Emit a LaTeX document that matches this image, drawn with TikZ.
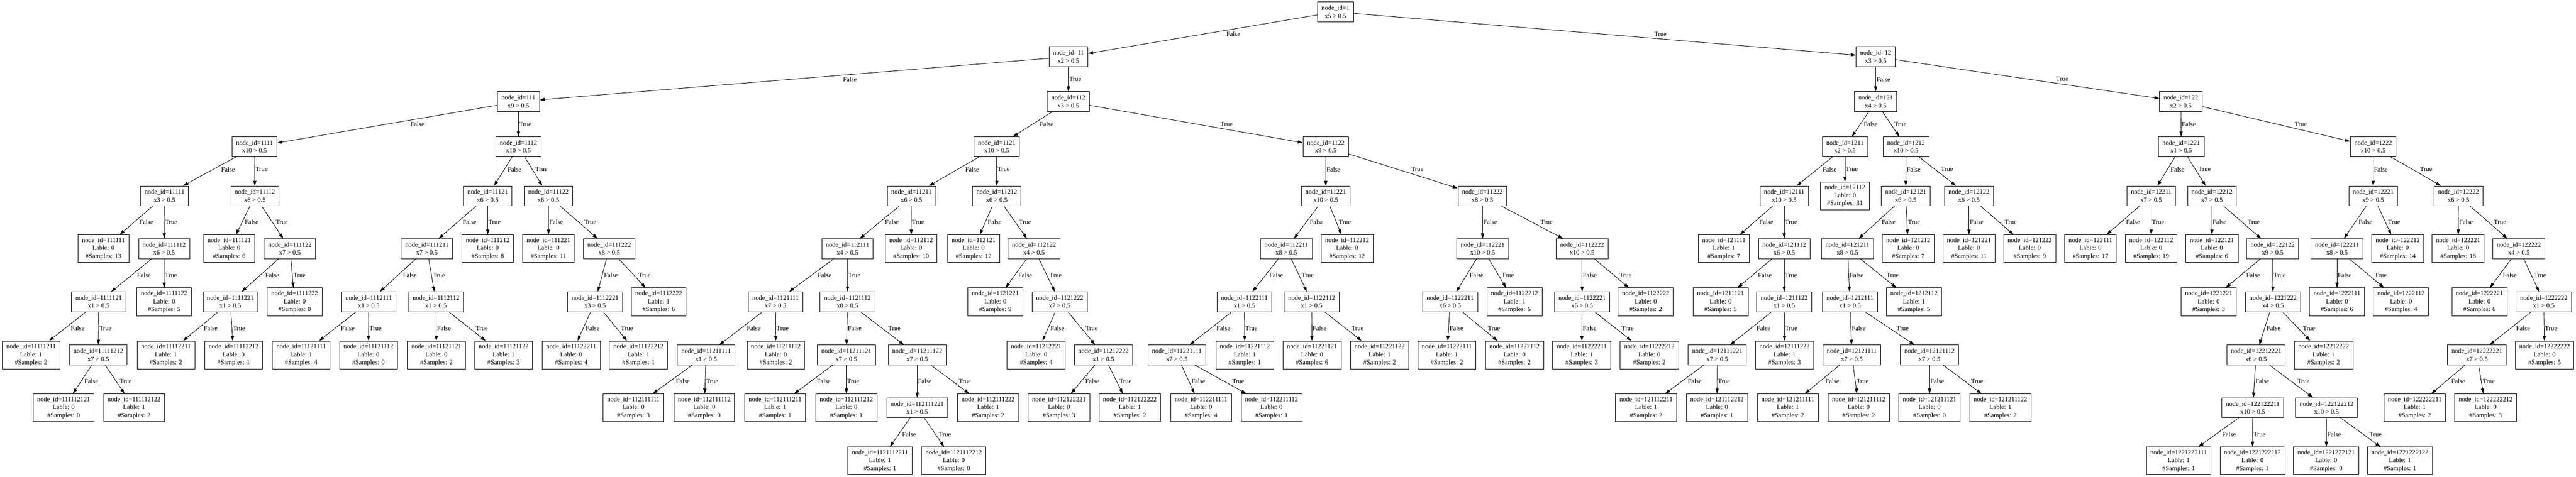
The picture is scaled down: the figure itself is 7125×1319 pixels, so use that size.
\documentclass[tikz,border=0pt]{standalone}
\usepackage{fontspec}
\setmainfont{Liberation Serif}
\usetikzlibrary{arrows.meta,calc}
\newcommand\fs{\fontsize{18}{22}\selectfont}
\newcommand\mkint[4]{\node[intbox] (n#1) at (#2,#3) {node\_id=#1\\x#4 > 0.5};}
\newcommand\mkleaf[5]{\node[leafbox] (n#1) at (#2,#3) {node\_id=#1\\Lable: #4\\\#Samples: #5};}
\newcommand\mkedge[4][0.5]{\draw[edge] (#2) -- (#3);
  \path let \p1=(#2.center), \p2=(#3.center), \n1={abs(\x2-\x1)/abs(\y2-\y1)*11+2} in (\p1) -- (\p2) node[lbl, pos=#1, xshift=\n1] {#4};}
\newcommand\kids[2][0.5]{\mkedge[#1]{n#2}{n#21}{False}\mkedge[#1]{n#2}{n#22}{True}}
\begin{document}
\begin{tikzpicture}[x=1pt,y=-1pt,
  box/.style={draw, line width=1.3pt, align=center, inner xsep=11pt, inner ysep=0pt, font=\fs},
  intbox/.style={box, minimum height=55pt},
  leafbox/.style={box, minimum height=77pt},
  edge/.style={line width=1.3pt, -{Triangle[length=14pt,width=9pt]}},
  lbl/.style={anchor=west, inner sep=0pt, font=\fs}]
\useasboundingbox[fill=white] (0,0) rectangle (7125,1319);
% level 0-3
\mkint{1}{3694}{33}{5}
\mkint{11}{2955}{157}{2}
\mkint{12}{5188}{157}{3}
\mkint{111}{1434}{281}{9}
\mkint{112}{2955}{281}{3}
\mkint{121}{5188}{281}{4}
\mkint{122}{6032}{281}{2}
\mkint{1111}{704}{406}{10}
\mkint{1112}{1434}{406}{10}
\mkint{1121}{2757}{406}{10}
\mkint{1122}{3667}{406}{9}
\mkint{1211}{5103}{406}{2}
\mkint{1212}{5272}{406}{10}
\mkint{1221}{6033}{406}{1}
\mkint{1222}{6564}{406}{10}
% level 4
\mkint{11111}{455}{542}{3}
\mkint{11112}{705}{542}{6}
\mkint{11121}{1349}{542}{6}
\mkint{11122}{1517}{542}{6}
\mkint{11211}{2521}{542}{6}
\mkint{11212}{2757}{542}{6}
\mkint{11221}{3667}{542}{10}
\mkint{11222}{4100}{542}{8}
\mkint{12111}{4935}{542}{10}
\mkleaf{12112}{5103}{542}{0}{31}
\mkint{12121}{5271}{542}{6}
\mkint{12122}{5446}{542}{6}
\mkint{12211}{5950}{542}{7}
\mkint{12212}{6118}{542}{7}
\mkint{12221}{6564}{542}{9}
\mkint{12222}{6800}{542}{6}
% level 5
\mkleaf{111111}{286}{688}{0}{13}
\mkint{111112}{454}{688}{6}
\mkleaf{111121}{634}{688}{0}{6}
\mkint{111122}{802}{688}{7}
\mkint{111211}{1181}{688}{7}
\mkleaf{111212}{1349}{688}{0}{8}
\mkleaf{111221}{1517}{688}{0}{11}
\mkint{111222}{1685}{688}{8}
\mkint{112111}{2344}{688}{4}
\mkleaf{112112}{2520}{688}{0}{10}
\mkleaf{112121}{2693}{688}{0}{12}
\mkint{112122}{2860}{688}{4}
\mkint{112211}{3558}{688}{8}
\mkleaf{112212}{3726}{688}{0}{12}
\mkint{112221}{4101}{688}{10}
\mkint{112222}{4376}{688}{10}
\mkleaf{121111}{4768}{688}{1}{7}
\mkint{121112}{4935}{688}{6}
\mkint{121211}{5110}{688}{8}
\mkleaf{121212}{5278}{688}{0}{7}
\mkleaf{121221}{5446}{688}{0}{11}
\mkleaf{121222}{5614}{688}{0}{9}
\mkleaf{122111}{5782}{688}{0}{17}
\mkleaf{122112}{5950}{688}{0}{19}
\mkleaf{122121}{6118}{688}{0}{6}
\mkint{122122}{6286}{688}{9}
\mkint{122211}{6464}{688}{8}
\mkleaf{122212}{6632}{688}{0}{14}
\mkleaf{122221}{6799}{688}{0}{18}
\mkint{122222}{6967}{688}{4}
% level 6
\mkint{1111121}{273}{835}{1}
\mkleaf{1111122}{454}{835}{0}{5}
\mkint{1111221}{637}{835}{1}
\mkleaf{1111222}{815}{835}{0}{0}
\mkint{1112111}{1020}{835}{1}
\mkint{1112112}{1206}{835}{1}
\mkint{1112221}{1646}{835}{3}
\mkleaf{1112222}{1822}{835}{1}{6}
\mkint{1121111}{2145}{835}{7}
\mkint{1121112}{2344}{835}{8}
\mkleaf{1121221}{2753}{835}{0}{9}
\mkint{1121222}{2931}{835}{7}
\mkint{1122111}{3442}{835}{1}
\mkint{1122112}{3628}{835}{1}
\mkint{1122211}{4011}{835}{6}
\mkleaf{1122212}{4189}{835}{1}{6}
\mkint{1122221}{4376}{835}{6}
\mkleaf{1122222}{4552}{835}{0}{2}
\mkleaf{1211121}{4759}{835}{0}{5}
\mkint{1211122}{4935}{835}{1}
\mkint{1212111}{5117}{835}{1}
\mkleaf{1212112}{5294}{835}{1}{5}
\mkleaf{1221221}{6109}{835}{0}{3}
\mkint{1221222}{6287}{835}{4}
\mkleaf{1222111}{6464}{835}{0}{6}
\mkleaf{1222112}{6641}{835}{0}{4}
\mkleaf{1222221}{6858}{835}{0}{6}
\mkint{1222222}{7036}{835}{1}
% level 7
\mkleaf{11111211}{86}{982}{1}{2}
\mkint{11111212}{272}{982}{7}
\mkleaf{11112211}{459}{982}{1}{2}
\mkleaf{11112212}{646}{982}{0}{1}
\mkleaf{11121111}{833}{982}{1}{4}
\mkleaf{11121112}{1019}{982}{0}{0}
\mkleaf{11121121}{1207}{982}{0}{2}
\mkleaf{11121122}{1393}{982}{1}{3}
\mkleaf{11122211}{1580}{982}{0}{4}
\mkleaf{11122212}{1766}{982}{1}{1}
\mkint{11211111}{1953}{982}{1}
\mkleaf{11211112}{2146}{982}{0}{2}
\mkint{11211121}{2341}{982}{7}
\mkint{11211122}{2537}{982}{7}
\mkleaf{11212221}{2866}{982}{0}{4}
\mkint{11212222}{3052}{982}{1}
\mkint{11221111}{3255}{982}{7}
\mkleaf{11221112}{3443}{982}{1}{1}
\mkleaf{11221121}{3629}{982}{0}{6}
\mkleaf{11221122}{3816}{982}{1}{2}
\mkleaf{11222111}{4002}{982}{1}{2}
\mkleaf{11222112}{4189}{982}{0}{2}
\mkleaf{11222211}{4375}{982}{1}{3}
\mkleaf{11222212}{4562}{982}{0}{2}
\mkint{12111221}{4750}{982}{7}
\mkleaf{12111222}{4936}{982}{1}{3}
\mkint{12121111}{5122}{982}{7}
\mkint{12121112}{5337}{982}{7}
\mkint{12212221}{6240}{982}{6}
\mkleaf{12212222}{6427}{982}{1}{2}
\mkint{12222221}{6851}{982}{7}
\mkleaf{12222222}{7038}{982}{0}{5}
% level 8
\mkleaf{111112121}{176}{1128}{0}{0}
\mkleaf{111112122}{371}{1128}{1}{2}
\mkleaf{112111111}{1752}{1128}{0}{3}
\mkleaf{112111112}{1948}{1128}{0}{0}
\mkleaf{112111211}{2144}{1128}{1}{1}
\mkleaf{112111212}{2341}{1128}{0}{1}
\mkint{112111221}{2537}{1128}{1}
\mkleaf{112111222}{2733}{1128}{1}{2}
\mkleaf{112122221}{2929}{1128}{0}{3}
\mkleaf{112122222}{3125}{1128}{1}{2}
\mkleaf{112211111}{3322}{1128}{0}{4}
\mkleaf{112211112}{3517}{1128}{0}{1}
\mkleaf{121112211}{4553}{1128}{1}{2}
\mkleaf{121112212}{4749}{1128}{0}{1}
\mkleaf{121211111}{4945}{1128}{1}{2}
\mkleaf{121211112}{5141}{1128}{0}{2}
\mkleaf{121211121}{5337}{1128}{0}{0}
\mkleaf{121211122}{5533}{1128}{1}{2}
\mkint{122122211}{6231}{1128}{10}
\mkint{122122212}{6435}{1128}{10}
\mkleaf{122222211}{6679}{1128}{1}{2}
\mkleaf{122222212}{6875}{1128}{0}{3}
% level 9
\mkleaf{1121112211}{2434}{1275}{1}{1}
\mkleaf{1121112212}{2638}{1275}{0}{0}
\mkleaf{1221222111}{6026}{1275}{1}{1}
\mkleaf{1221222112}{6230}{1275}{0}{1}
\mkleaf{1221222121}{6434}{1275}{0}{0}
\mkleaf{1221222122}{6638}{1275}{1}{1}
% edges
\kids{1}
\kids{11}\kids{12}
\kids{111}\kids{112}\kids{121}\kids{122}
\kids[0.46]{1111}\kids[0.46]{1112}\kids[0.46]{1121}\kids[0.46]{1122}
\kids[0.46]{1211}\kids[0.46]{1212}\kids[0.46]{1221}\kids[0.46]{1222}
\kids{11111}\kids{11112}\kids{11121}\kids{11122}\kids{11211}\kids{11212}
\kids{11221}\kids{11222}\kids{12111}\kids{12121}\kids{12122}\kids{12211}
\kids{12212}\kids{12221}\kids{12222}
\kids{111112}\kids{111122}\kids{111211}\kids{111222}\kids{112111}\kids{112122}
\kids{112211}\kids{112221}\kids{112222}\kids{121112}\kids{121211}\kids{122122}
\kids{122211}\kids{122222}
\kids{1111121}\kids{1111221}\kids{1112111}\kids{1112112}\kids{1112221}
\kids{1121111}\kids{1121112}\kids{1121222}\kids{1122111}\kids{1122112}
\kids{1122211}\kids{1122221}\kids{1211122}\kids{1212111}\kids{1221222}
\kids{1222222}
\kids{11111212}\kids{11211111}\kids{11211121}\kids{11211122}\kids{11212222}
\kids{11221111}\kids{12111221}\kids{12121111}\kids{12121112}\kids{12212221}
\kids{12222221}
\kids{112111221}\kids{122122211}\kids{122122212}
\end{tikzpicture}
\end{document}
